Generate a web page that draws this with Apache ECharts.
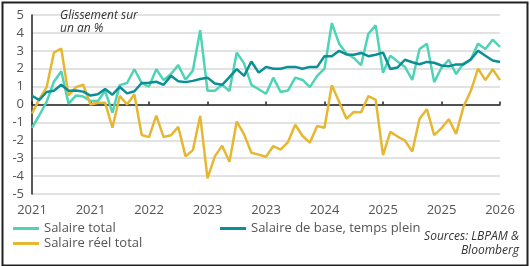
<!DOCTYPE html>
<html>
<head>
<meta charset="utf-8">
<script src="https://cdn.jsdelivr.net/npm/echarts@6/dist/echarts.min.js"></script>
<style>
  html, body { margin: 0; padding: 0; background: #fff; }
  #chart { width: 530px; height: 266px; }
</style>
</head>
<body>
<div id="chart"></div>
<script>
  // glissement sur un an, mensuel (65 points)
  const tickLabels = ['2021', '2021', '2022', '2023', '2023', '2024', '2025', '2025', '2026']
  const categories = []
  for (let i = 0; i < 65; i++) categories.push('m' + i)

  const salaireTotal = [
    -1.3, -0.6, 0.15, 1.27, 1.86, 0.05, 0.5, 0.45, 0.2, 0.2,
    0.75, -0.45, 1.08, 1.2, 1.97, 1.2, 1.0, 1.97, 1.36, 1.7,
    2.2, 1.38, 1.9, 4.15, 0.77, 0.77, 1.1, 0.75, 2.9, 2.3,
    1.1, 0.85, 0.6, 1.5, 0.7, 0.78, 1.5, 1.37, 0.97, 1.6,
    2.0, 4.55, 3.4, 2.85, 2.6, 2.2, 3.95, 4.42, 1.77, 2.73,
    2.4, 2.1, 1.37, 3.1, 3.4, 1.25, 2.05, 2.5, 1.7, 2.3,
    2.5, 3.4, 3.1, 3.62, 3.22
  ]
  const salaireBase = [
    0.48, 0.25, 0.7, 0.77, 1.1, 0.77, 0.78, 0.72, 0.5, 0.57,
    0.86, 0.55, 0.98, 0.62, 0.74, 1.2, 1.22, 1.27, 1.1, 1.6,
    1.3, 1.25, 1.32, 1.42, 1.5, 1.17, 1.1, 1.53, 1.98, 1.6,
    2.4, 1.78, 2.1, 2.0, 2.0, 2.1, 2.1, 2.0, 2.1, 2.1,
    2.7, 2.7, 3.0, 2.8, 2.78, 2.88, 2.7, 2.78, 2.9, 1.98,
    2.07, 2.5, 2.36, 2.25, 2.38, 2.33, 2.18, 2.14, 2.24, 2.23,
    2.52, 3.0, 2.72, 2.46, 2.37
  ]
  const salaireReel = [
    -0.5, 0.3, 0.97, 2.9, 3.13, 0.5, 0.97, 1.1, 0, 0.1,
    0.1, -1.3, 0.48, 0, 0.57, -1.7, -1.82, -0.62, -1.82, -1.72,
    -1.25, -2.9, -2.55, -0.63, -4.13, -2.9, -2.3, -3.2, -0.95, -1.67,
    -2.7, -2.8, -2.92, -2.32, -2.52, -2.1, -1.13, -1.76, -2.13, -1.2,
    -1.3, 1.08, 0.15, -0.8, -0.42, -0.44, 0.47, 0.26, -2.83, -1.53,
    -1.79, -2.01, -2.63, -0.8, -0.26, -1.71, -1.32, -0.82, -1.64, -0.13,
    0.75, 2.0, 1.36, 1.97, 1.36
  ]

  const colTotal = '#4fd3b6'
  const colBase = '#0b8f94'
  const colReel = '#e6b733'
  const txt = '#555555'
  const font = 'Open Sans'

  let chart = echarts.init(document.getElementById('chart'))

  function line(name, data, color, z) {
    return {
      name: name,
      type: 'line',
      data: data,
      symbol: 'none',
      z: z,
      xAxisIndex: 1,
      lineStyle: { color: color, width: 2.5 },
      itemStyle: { color: color }
    }
  }

  function note(text, top) {
    return {
      type: 'text',
      right: 11,
      top: top,
      style: { text: text, fontFamily: font, fontStyle: 'italic', fontSize: 12, fill: '#333' }
    }
  }

  let option = {
    animation: false,
    textStyle: { fontFamily: font },
    grid: { left: 32, right: 30, top: 15, bottom: 72 },
    title: {
      text: 'Glissement sur\nun an %',
      left: 55,
      top: 4,
      textStyle: { fontFamily: font, fontStyle: 'italic', fontWeight: 'normal', fontSize: 12, lineHeight: 13, color: '#333' }
    },
    legend: [
      {
        data: ['Salaire total', 'Salaire réel total'],
        orient: 'vertical',
        left: 8,
        top: 216,
        itemGap: 0,
        itemWidth: 26,
        itemHeight: 3,
        icon: 'rect',
        textStyle: { fontFamily: font, fontSize: 13, color: txt, lineHeight: 15 }
      },
      {
        data: ['Salaire de base, temps plein'],
        left: 215,
        top: 216,
        itemWidth: 26,
        itemHeight: 3,
        icon: 'rect',
        textStyle: { fontFamily: font, fontSize: 13, color: txt, lineHeight: 15 }
      }
    ],
    graphic: [
      note('Sources: LBPAM &', 231),
      note('Bloomberg', 245),
      {
        type: 'rect',
        left: 0,
        top: 0,
        shape: { x: 1, y: 1, width: 525, height: 263 },
        style: { fill: 'none', stroke: '#222', lineWidth: 2 },
        z: 100
      }
    ],
    xAxis: [
      {
        type: 'category',
        data: categories,
        boundaryGap: false,
        position: 'bottom',
        axisLine: { show: false, onZero: false },
        axisTick: { show: false },
        splitLine: { show: false },
        axisLabel: {
          interval: 7,
          margin: 10,
          fontSize: 13,
          color: txt,
          formatter: (val, idx) => tickLabels[idx / 8]
        }
      },
      {
        type: 'category',
        data: categories,
        boundaryGap: false,
        position: 'bottom',
        axisLine: { show: true, onZero: true, lineStyle: { color: '#222', width: 1.5 } },
        axisTick: { show: true, inside: true, interval: 7, length: 3, lineStyle: { color: '#222', width: 1.5 } },
        axisLabel: { show: false },
        splitLine: { show: false }
      }
    ],
    yAxis: {
      type: 'value',
      min: -5,
      max: 5,
      interval: 1,
      axisLine: { show: true, lineStyle: { color: '#222', width: 1.5 } },
      axisTick: { show: false },
      axisLabel: { fontSize: 13, color: txt, margin: 8 },
      splitLine: { lineStyle: { color: '#d9d9d9', width: 1.5 } }
    },
    series: [
      line('Salaire total', salaireTotal, colTotal, 2),
      line('Salaire de base, temps plein', salaireBase, colBase, 4),
      line('Salaire réel total', salaireReel, colReel, 3)
    ]
  }
  chart.setOption(option)
</script>
</body>
</html>
